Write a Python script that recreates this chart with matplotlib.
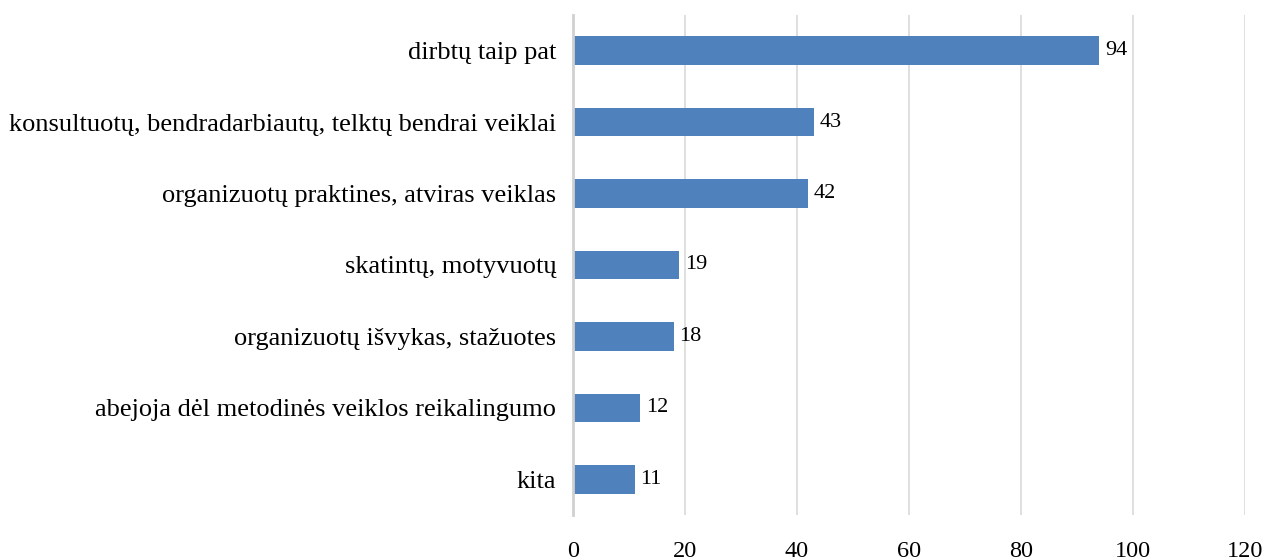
import matplotlib
matplotlib.use("Agg")
import matplotlib.pyplot as plt

categories = [
    "dirbtų taip pat",
    "konsultuotų, bendradarbiautų, telktų bendrai veiklai",
    "organizuotų praktines, atviras veiklas",
    "skatintų, motyvuotų",
    "organizuotų išvykas, stažuotes",
    "abejoja dėl metodinės veiklos reikalingumo",
    "kita",
]
values = [94, 43, 42, 19, 18, 12, 11]
xticks = [0, 20, 40, 60, 80, 100, 120]

plt.rcParams['font.family'] = ['Liberation Serif', 'DejaVu Serif']

fig = plt.figure(figsize=(12.71, 5.6), dpi=100)
ax = fig.add_axes([0.4508, 0.0804, 0.5287, 0.8928])

ypos = list(range(len(categories)))
bars = ax.barh(ypos, values, height=0.4, color='#4F81BD', zorder=3)
ax.set_ylim(len(categories) - 0.5, -0.5)
ax.set_xlim(0, 120)
ax.set_xticks(xticks)
ax.set_xticklabels([str(t) for t in xticks], fontsize=17.5)
ax.set_yticks(ypos)
ax.set_yticklabels(categories, fontsize=19)
ax.tick_params(axis='x', length=0, pad=19)
ax.tick_params(axis='y', length=0, pad=12)

for s in ['top', 'right', 'bottom']:
    ax.spines[s].set_visible(False)
ax.spines['left'].set_color('#D0D0D0')
ax.spines['left'].set_linewidth(2)
ax.spines['left'].set_zorder(4)

ax.xaxis.grid(True, color='#D9D9D9', linewidth=1.2, zorder=0)
ax.set_axisbelow(True)

for y, v in zip(ypos, values):
    ax.annotate(str(v), xy=(v, y), xytext=(4, 0), textcoords='offset points',
                va='center', ha='left', fontsize=16)

fig.savefig("out.png", dpi=100)
